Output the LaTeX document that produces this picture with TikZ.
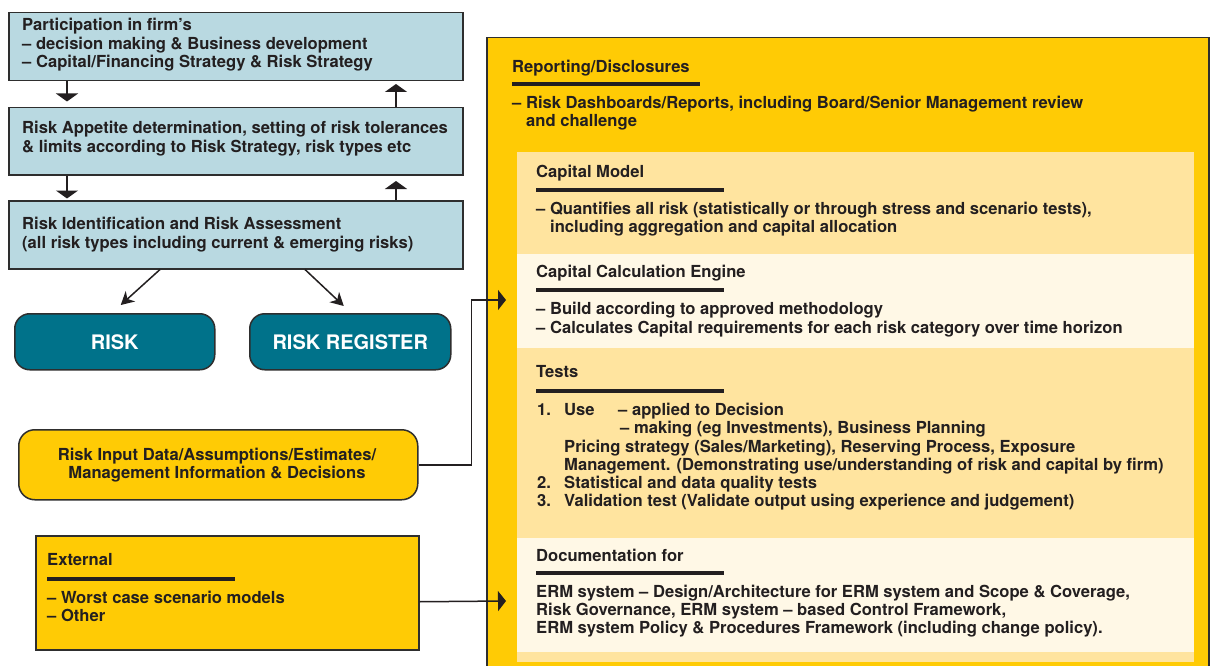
\documentclass[tikz,border=0pt]{standalone}
\usepackage{fontspec}
\setmainfont{TeX Gyre Heros}
\usetikzlibrary{arrows.meta}
\definecolor{ink}{HTML}{231F20}
\definecolor{lblue}{HTML}{B9D9E1}
\definecolor{riskteal}{HTML}{00728A}
\definecolor{ryellow}{HTML}{FFCB05}
\definecolor{lyellow}{HTML}{FFE49F}
\definecolor{cream}{HTML}{FFF8E6}
\definecolor{edge}{HTML}{2E2E2E}
\tikzset{
  bodyfont/.style={font=\fontsize{16.6pt}{18pt}\selectfont\bfseries},
  txt/.style={bodyfont, anchor=base west, inner sep=0pt, text=ink},
  ctxt/.style={bodyfont, anchor=base, inner sep=0pt, text=ink},
  bluebox/.style={draw=edge, line width=1.5pt, fill=lblue, anchor=north west, inner sep=0pt},
  tealbox/.style={draw=edge, line width=1.5pt, fill=riskteal, rounded corners=15pt, anchor=north west, inner sep=0pt,
    text=white, font=\fontsize{20pt}{24pt}\selectfont\bfseries},
  ybox/.style={draw=edge, line width=1.5pt, fill=ryellow, anchor=north west, inner sep=0pt},
  panel/.style={fill=#1, draw=none, anchor=north west, inner sep=0pt, minimum width=677pt},
  uline/.style={draw=ink, line width=3.5pt},
  barr/.style={draw=ink, line width=1.5pt, -{Triangle[width=22pt,length=8pt]}},
  sarr/.style={draw=ink, line width=1.5pt, -{Stealth[width=14pt,length=13pt,inset=4pt]}},
  rarr/.style={draw=ink, line width=1.5pt, -{Triangle[width=20pt,length=8pt]}},
}
\begin{document}
\begin{tikzpicture}[x=1pt,y=-1pt]
\useasboundingbox[fill=white] (0,0) rectangle (1213,666);

% ---------------- left column ----------------
\node[bluebox, minimum width=454pt, minimum height=68pt] (b1) at (8,12) {};
\node[bluebox, minimum width=454pt, minimum height=67pt] (b2) at (8,107) {};
\node[bluebox, minimum width=454pt, minimum height=68pt] (b3) at (8,200) {};

\node[txt] (b1a) at (22,31) {Participation in firm’s};
\node[txt] (b1b) at (22,49.5) {– decision making \& Business development};
\node[txt] (b1c) at (22,68) {– Capital/Financing Strategy \& Risk Strategy};
\node[txt] (b2a) at (22,134) {Risk Appetite determination, setting of risk tolerances};
\node[txt] (b2b) at (22,153) {\& limits according to Risk Strategy, risk types etc};
\node[txt] (b3a) at (22,229) {Risk Identification and Risk Assessment};
\node[txt] (b3b) at (22,248) {(all risk types including current \& emerging risks)};

\draw[barr] ([xshift=59pt]b1.south west) -- ++(0,20);
\draw[barr] ([xshift=388pt]b2.north west) -- ++(0,-23);
\draw[barr] ([xshift=59pt]b2.south west) -- ++(0,23);
\draw[barr] ([xshift=388pt]b3.north west) -- ++(0,-19);

\node[tealbox, minimum width=200pt, minimum height=56pt] (risk) at (14,313) {RISK};
\node[tealbox, minimum width=201pt, minimum height=56pt] (reg) at (249,313) {RISK REGISTER};

\draw[sarr] ([xshift=152pt]b3.south west) -- ([xshift=6pt,yshift=8pt]risk.north);
\draw[sarr] ([xshift=297pt]b3.south west) -- ([xshift=-6.5pt,yshift=7pt]reg.north);

\node[ybox, rounded corners=16pt, minimum width=399pt, minimum height=70pt] (inp) at (18,429) {};
\node[ctxt] (inpa) at (217,460) {Risk Input Data/Assumptions/Estimates/};
\node[ctxt] (inpb) at (217,478) {Management Information \& Decisions};

\node[ybox, minimum width=383pt, minimum height=114pt] (ext) at (35,535) {};
\node[txt] (exta) at (47,565) {External};
\draw[uline] (47,579) -- (235,579);
\node[txt] (extb) at (47,603) {– Worst case scenario models};
\node[txt] (extc) at (47,621) {– Other};

% ---------------- right block ----------------
\node[ybox, minimum width=722pt, minimum height=650pt] (big) at (486,37) {};
\node[panel=lyellow, minimum height=102pt] (p1) at (517,152) {};
\node[panel=cream, minimum height=94pt] (p2) at (517,254) {};
\node[panel=lyellow, minimum height=190pt] (p3) at (517,348) {};
\node[panel=cream, minimum height=114pt] (p4) at (517,538) {};
\node[panel=lyellow, minimum height=10pt] (p5) at (517,652) {};

\node[txt] (r1) at (512,73) {Reporting/Disclosures};
\draw[uline] (512,84) -- (700,84);
\node[txt] (r2) at (512,109) {– Risk Dashboards/Reports, including Board/Senior Management review};
\node[txt] (r3) at (526,127) {and challenge};

\node[txt] (c1) at (536,177) {Capital Model};
\draw[uline] (536,190) -- (724,190);
\node[txt] (c2) at (536,214) {– Quantifies all risk (statistically or through stress and scenario tests),};
\node[txt] (c3) at (550,232) {including aggregation and capital allocation};

\node[txt] (e1) at (536,277) {Capital Calculation Engine};
\draw[uline] (536,290) -- (724,290);
\node[txt] (e2) at (536,314) {– Build according to approved methodology};
\node[txt] (e3) at (536,333) {– Calculates Capital requirements for each risk category over time horizon};

\node[txt] (t1) at (536,377) {Tests};
\draw[uline] (536,391) -- (724,391);
\node[txt] (t2n) at (537,415) {1.};
\node[txt] (t2a) at (564,415) {Use};
\node[txt] (t2b) at (618,415) {– applied to Decision};
\node[txt] (t3) at (620,433) {– making (eg Investments), Business Planning};
\node[txt] (t4) at (564,452) {Pricing strategy (Sales/Marketing), Reserving Process, Exposure};
\node[txt] (t5) at (564,470) {Management. (Demonstrating use/understanding of risk and capital by firm)};
\node[txt] (t6n) at (537,488) {2.};
\node[txt] (t6) at (564,488) {Statistical and data quality tests};
\node[txt] (t7n) at (537,506) {3.};
\node[txt] (t7) at (564,506) {Validation test (Validate output using experience and judgement)};

\node[txt] (d1) at (536,561) {Documentation for};
\draw[uline] (536,573) -- (724,573);
\node[txt] (d2) at (536,597) {ERM system – Design/Architecture for ERM system and Scope \& Coverage,};
\node[txt] (d3) at (536,615) {Risk Governance, ERM system – based Control Framework,};
\node[txt] (d4) at (536,633) {ERM system Policy \& Procedures Framework (including change policy).};

% connectors into the right block
\coordinate (in1) at (506,300);
\coordinate (in2) at (506,601);
\draw[rarr] (inp.east) -- ++(53,0) |- (in1);
\draw[rarr] ([yshift=-9pt]ext.east) -- (in2);
\end{tikzpicture}
\end{document}
